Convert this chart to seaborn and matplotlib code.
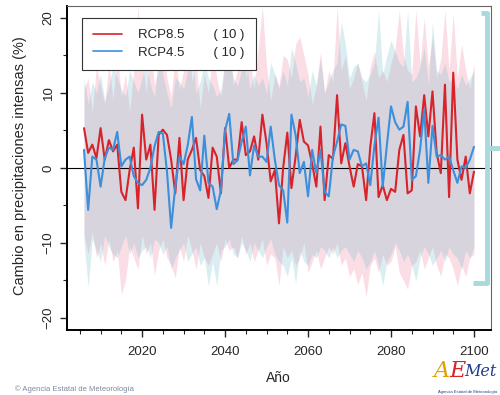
import numpy as np
import pandas as pd
import matplotlib
matplotlib.use('Agg')
import matplotlib.pyplot as plt
from matplotlib.lines import Line2D
from matplotlib.ticker import MultipleLocator
import seaborn as sns

# Years and ensemble statistics
years = list(range(2006, 2101))

rcp85_mean = [5.3, 2.0, 3.1, 1.3, 5.3, 1.1, 3.7, 2.2, 3.1, -3.2,
              -4.3, -0.3, 2.7, -5.4, 7.1, 1.1, 3.1, -5.6, 4.4, 5.1,
              4.4, 1.1, -3.4, 4.0, -4.3, 1.1, 2.4, 4.0, -0.3, -1.1,
              -4.0, 2.7, 1.5, -3.4, 5.3, 0.0, 1.1, 1.1, 6.1, 1.7,
              2.2, 4.2, 1.1, 7.1, 3.3, -1.8, -0.3, -7.4, 0.0, 4.7,
              -2.7, 1.5, 6.4, 3.5, 3.0, 0.5, -2.5, 5.5, -4.3, 1.7,
              1.2, 9.7, 0.6, 3.3, 0.2, -2.5, 0.5, 0.2, -4.3, 2.8,
              7.3, -3.9, -2.3, -4.3, -2.8, -3.2, 2.4, 4.4, -3.4, -3.0,
              8.2, 4.2, 9.7, 4.2, 10.2, 2.0, -0.7, 11.1, -3.9, 12.7,
              1.1, -1.6, 1.5, -3.4, -0.5]

rcp45_mean = [2.4, -5.6, 1.5, 1.1, -2.5, 1.3, 2.7, 2.4, 4.8, 0.2,
              1.1, 1.5, -1.1, -2.0, -2.3, -1.6, 0.0, 2.9, 4.8, 4.6,
              -0.5, -8.0, -2.5, 1.5, 0.5, 3.0, 6.8, -1.5, -3.0, 4.3,
              -2.0, -2.5, -5.5, -3.0, 5.0, 7.2, 0.5, 1.0, 3.5, 5.5,
              -1.0, 3.0, 1.5, 1.5, 0.8, 5.5, 1.1, -2.3, -3.0, -7.3,
              7.1, 4.4, -0.7, 0.8, -3.8, 2.4, -0.7, 2.4, -3.2, -3.8,
              1.5, 3.5, 5.8, 5.6, 1.1, 2.4, 2.2, 0.2, 0.6, -2.3,
              3.0, 6.7, -2.5, 3.0, 8.2, 6.1, 5.1, 5.5, 8.8, -1.6,
              -1.1, 2.4, 7.8, -2.0, 5.6, 1.5, 1.7, 1.1, 1.5, -0.3,
              -2.0, 0.2, 0.0, 1.1, 2.8]

rcp85_hi = [10.5, 12.0, 7.5, 13.5, 11.0, 8.5, 14.0, 9.0, 15.5, 9.5,
            12.5, 7.5, 13.0, 21.5, 14.5, 10.0, 16.0, 11.0, 13.5, 17.0,
            12.0, 9.5, 15.0, 10.5, 13.0, 18.0, 11.5, 14.0, 8.0, 12.5,
            10.0, 15.5, 12.0, 9.5, 14.0, 16.5, 11.0, 13.0, 19.5, 12.0,
            14.5, 10.5, 16.0, 21.5, 13.5, 9.0, 12.5, 11.0, 15.0, 14.5,
            12.0, 16.5, 17.5, 15.0, 12.5, 8.5, 11.0, 15.5, 10.0, 13.0,
            11.5, 21.5, 13.0, 15.0, 10.5, 12.0, 14.0, 11.5, 9.0, 13.5,
            15.5, 12.0, 13.0, 11.5, 14.0, 16.0, 21.0, 15.0, 13.0, 12.5,
            21.0, 14.0, 20.0, 13.5, 17.5, 12.0, 14.5, 21.0, 13.0, 20.5,
            12.0, 16.5, 13.0, 10.5, 14.0]

rcp45_hi = [12.0, 8.5, 11.5, 10.0, 12.5, 9.0, 11.0, 13.5, 12.0, 10.5,
            9.5, 13.0, 11.5, 10.0, 12.0, 14.0, 11.0, 9.5, 15.0, 12.5,
            10.0, 8.0, 12.0, 11.5, 10.5, 13.0, 15.5, 10.0, 11.5, 14.0,
            12.0, 11.0, 9.5, 10.5, 14.5, 15.5, 12.0, 11.0, 13.0, 15.0,
            10.5, 12.5, 11.0, 12.0, 10.0, 14.0, 12.5, 10.5, 13.0, 11.0,
            16.0, 14.0, 11.5, 12.0, 9.5, 13.0, 11.0, 14.5, 10.0, 11.5,
            13.0, 14.0, 19.5, 16.5, 12.0, 13.5, 14.0, 12.0, 11.5, 12.5,
            14.0, 21.0, 12.5, 15.0, 17.0, 15.5, 14.0, 13.5, 21.0, 11.5,
            12.0, 13.5, 16.0, 11.0, 19.5, 13.0, 12.5, 14.0, 11.5, 12.0,
            10.5, 12.5, 11.0, 12.0, 13.0]

rcp85_lo = [-9.0, -11.5, -8.5, -12.0, -10.0, -13.0, -9.5, -12.5, -11.0, -16.9,
            -15.0, -10.5, -12.0, -13.5, -9.0, -11.5, -10.0, -14.3, -11.0, -9.5,
            -12.0, -13.0, -14.7, -10.5, -12.5, -9.0, -11.0, -13.5, -10.0, -12.0,
            -13.0, -11.5, -10.0, -12.5, -9.5, -11.0, -10.5, -12.0, -9.0, -11.5,
            -10.0, -12.5, -11.0, -9.5, -13.0, -11.5, -12.0, -15.7, -10.5, -12.0,
            -11.0, -13.0, -12.0, -10.0, -14.0, -12.5, -11.0, -13.5, -12.0, -10.5,
            -11.5, -10.0, -13.0, -12.0, -14.5, -13.5, -15.5, -14.0, -17.2, -13.0,
            -12.0, -14.0, -11.5, -13.0, -12.5, -10.5, -14.0, -15.0, -16.2, -13.0,
            -12.5, -11.0, -13.5, -12.0, -10.5, -13.0, -14.5, -11.5, -12.0, -13.5,
            -15.7, -13.0, -14.5, -12.0, -11.5]

rcp45_lo = [-10.0, -15.9, -9.5, -11.0, -12.5, -9.0, -10.5, -11.5, -12.0, -10.5,
            -9.0, -11.5, -10.0, -12.0, -11.0, -10.5, -12.0, -9.5, -10.0, -11.5,
            -10.5, -13.5, -12.0, -11.0, -10.0, -12.5, -11.5, -10.5, -13.0, -12.0,
            -15.8, -12.5, -15.7, -11.0, -10.5, -9.5, -11.5, -12.0, -10.0, -11.0,
            -12.5, -10.0, -11.0, -12.0, -10.5, -9.5, -11.5, -12.5, -13.0, -14.5,
            -12.0, -15.4, -11.0, -12.5, -13.0, -11.5, -12.0, -10.5, -11.0, -12.0,
            -10.5, -12.0, -11.0, -10.5, -11.5, -12.5, -11.0, -12.0, -13.5, -12.5,
            -11.0, -13.0, -15.7, -12.5, -11.5, -10.0, -11.0, -12.5, -11.5, -13.0,
            -15.1, -12.0, -10.5, -11.5, -13.0, -12.0, -11.0, -12.5, -10.5, -11.5,
            -12.0, -13.5, -11.0, -12.0, -10.5]

scenarios = ['RCP8.5', 'RCP4.5']
line_colors = {'RCP8.5': '#d8232a', 'RCP4.5': '#3c8fdc'}
band_colors = {'RCP8.5': '#f27a98', 'RCP4.5': '#6cbccc'}

df = pd.DataFrame({
    'Año': years * 2,
    'valor': rcp85_mean + rcp45_mean,
    'escenario': ['RCP8.5'] * len(years) + ['RCP4.5'] * len(years),
})

sns.set_style('ticks')
plt.rcParams['font.family'] = ['Liberation Sans', 'DejaVu Sans']

fig = plt.figure(figsize=(5.0, 3.95), dpi=100)
ax = fig.add_axes([0.134, 0.165, 0.848, 0.820])

# ensemble spread bands
ax.fill_between(years, rcp85_lo, rcp85_hi, color=band_colors['RCP8.5'],
                alpha=0.25, linewidth=0)
ax.fill_between(years, rcp45_lo, rcp45_hi, color=band_colors['RCP4.5'],
                alpha=0.25, linewidth=0)

ax.axhline(0, color='black', lw=0.8, zorder=2)

sns.lineplot(data=df, x='Año', y='valor', hue='escenario', hue_order=scenarios,
             palette=line_colors, linewidth=1.5, legend=False, ax=ax, zorder=3)

ax.set_xlim(2001.9, 2104.1)
ax.set_ylim(-21.6, 21.6)
ax.set_xticks([2020, 2040, 2060, 2080, 2100])
ax.xaxis.set_minor_locator(MultipleLocator(5))
ax.set_yticks([-20, -10, 0, 10, 20])
ax.yaxis.set_minor_locator(MultipleLocator(5))
ax.tick_params(which='major', length=5, width=1.0, labelsize=9.5, pad=4)
ax.tick_params(which='minor', length=3, width=0.8)
ax.tick_params(axis='x', pad=7)
for lab in ax.get_yticklabels():
    lab.set_rotation(90)
    lab.set_va('center')

ax.set_xlabel('')
ax.set_ylabel('')
for s in ['left', 'bottom']:
    ax.spines[s].set_linewidth(1.4)
    ax.spines[s].set_color('black')
for s in ['top', 'right']:
    ax.spines[s].set_linewidth(0.8)
    ax.spines[s].set_color('#666666')

handles = [Line2D([0], [0], color=line_colors[s], lw=1.2) for s in scenarios]
leg = ax.legend(handles, ['RCP8.5        ( 10 )', 'RCP4.5        ( 10 )'],
                loc='upper left', bbox_to_anchor=(0.035, 0.963),
                borderaxespad=0, fancybox=False, framealpha=1,
                edgecolor='#333333', fontsize=9.5, handlelength=2.2,
                labelspacing=0.4, borderpad=0.85, handletextpad=1.2)
leg.get_frame().set_linewidth(0.8)

fig.text(0.04, 0.58, 'Cambio en precipitaciones intensas (%)', rotation=90,
         ha='center', va='center', fontsize=10.5)
fig.text(0.556, 0.043, 'Año', ha='center', va='center', fontsize=10)
fig.text(0.03, 0.014, '© Agencia Estatal de Meteorología', ha='left',
         va='center', fontsize=5.5, color='#7a8aa0')

# logo
fig.text(0.868, 0.06, 'A', ha='left', va='center', fontsize=16,
         style='italic', color='#e0a000', family='DejaVu Serif')
fig.text(0.898, 0.06, 'E', ha='left', va='center', fontsize=16,
         style='italic', color='#d8232a', family='DejaVu Serif')
fig.text(0.928, 0.06, 'Met', ha='left', va='center', fontsize=11.5,
         style='italic', color='#1f3b8a', family='DejaVu Serif')
fig.text(0.935, 0.008, 'Agencia Estatal de Meteorología', ha='center',
         va='center', fontsize=3, color='#1f3b8a')

# bracket on the right
br = '#a8d9dc'
def fline(xs, ys):
    fig.add_artist(Line2D([x / 500 for x in xs], [1 - y / 395 for y in ys],
                          color=br, lw=3.5, solid_capstyle='butt'))
fline([481, 487, 487, 473], [13, 13, 283, 283])
fline([487, 500], [148, 148])

plt.savefig('out.png', dpi=100)
